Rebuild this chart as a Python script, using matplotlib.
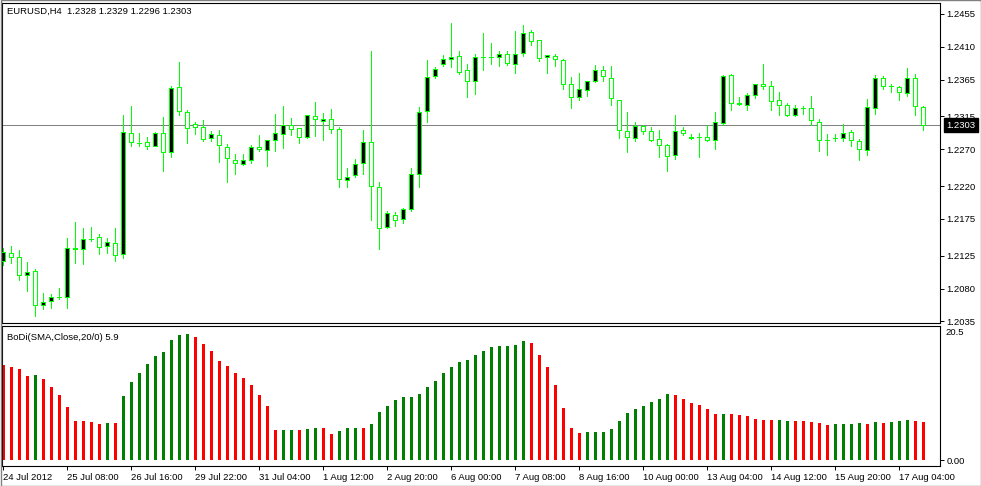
import matplotlib
matplotlib.use("Agg")
import matplotlib.pyplot as plt
from matplotlib.patches import Rectangle

plt.rcParams['font.family'] = ['Liberation Sans', 'DejaVu Sans']

# EURUSD H4 candles
opens = [1.2118, 1.2128, 1.2123, 1.2099, 1.2104, 1.2057, 1.2063, 1.2068, 1.2068, 1.2134,
         1.2134, 1.2147, 1.2150, 1.2138, 1.2142, 1.2127, 1.2293, 1.2279, 1.2280, 1.2275,
         1.2292, 1.2267, 1.2355, 1.2321, 1.2305, 1.2300, 1.2285, 1.2290, 1.2273, 1.2256,
         1.2250, 1.2256, 1.2273, 1.2269, 1.2283, 1.2291, 1.2304, 1.2299, 1.2287, 1.2315,
         1.2309, 1.2312, 1.2298, 1.2228, 1.2235, 1.2252, 1.2280, 1.2218, 1.2164, 1.2181,
         1.2175, 1.2188, 1.2236, 1.2322, 1.2370, 1.2386, 1.2393, 1.2397, 1.2378, 1.2363,
         1.2396, 1.2396, 1.2396, 1.2400, 1.2386, 1.2402, 1.2431, 1.2419, 1.2396, 1.2397,
         1.2392, 1.2359, 1.2341, 1.2351, 1.2364, 1.2378, 1.2368, 1.2338, 1.2295, 1.2285,
         1.2302, 1.2295, 1.2284, 1.2276, 1.2262, 1.2296, 1.2285, 1.2287, 1.2287, 1.2283,
         1.2306, 1.2371, 1.2334, 1.2330, 1.2345, 1.2360, 1.2356, 1.2337, 1.2330, 1.2317,
         1.2326, 1.2326, 1.2308, 1.2283, 1.2286, 1.2285, 1.2294, 1.2281, 1.2269, 1.2326,
         1.2367, 1.2356, 1.2355, 1.2347, 1.2367, 1.2328]
highs = [1.2135, 1.2138, 1.2133, 1.2116, 1.2106, 1.2074, 1.2073, 1.2081, 1.2149, 1.2171,
         1.2162, 1.2164, 1.2154, 1.2149, 1.2163, 1.2317, 1.2329, 1.2292, 1.2287, 1.2294,
         1.2314, 1.2357, 1.2389, 1.2324, 1.2308, 1.2310, 1.2295, 1.2296, 1.2278, 1.2264,
         1.2264, 1.2276, 1.2290, 1.2283, 1.2319, 1.2329, 1.2313, 1.2299, 1.2317, 1.2335,
         1.2320, 1.2325, 1.2300, 1.2245, 1.2257, 1.2296, 1.2404, 1.2225, 1.2186, 1.2185,
         1.2190, 1.2245, 1.2328, 1.2392, 1.2382, 1.2399, 1.2443, 1.2404, 1.2386, 1.2400,
         1.2429, 1.2415, 1.2405, 1.2404, 1.2432, 1.2440, 1.2433, 1.2419, 1.2399, 1.2400,
         1.2393, 1.2369, 1.2374, 1.2364, 1.2385, 1.2384, 1.2384, 1.2338, 1.2321, 1.2307,
         1.2304, 1.2300, 1.2296, 1.2278, 1.2317, 1.2300, 1.2291, 1.2292, 1.2303, 1.2321,
         1.2372, 1.2373, 1.2341, 1.2347, 1.2360, 1.2386, 1.2363, 1.2348, 1.2333, 1.2330,
         1.2329, 1.2343, 1.2311, 1.2291, 1.2291, 1.2305, 1.2296, 1.2284, 1.2339, 1.2372,
         1.2370, 1.2360, 1.2356, 1.2381, 1.2373, 1.2329]
lows = [1.2112, 1.2115, 1.2092, 1.2077, 1.2042, 1.2052, 1.2053, 1.2066, 1.2053, 1.2115,
        1.2113, 1.2145, 1.2127, 1.2129, 1.2118, 1.2122, 1.2275, 1.2275, 1.2270, 1.2274,
        1.2241, 1.2260, 1.2317, 1.2279, 1.2291, 1.2282, 1.2282, 1.2253, 1.2225, 1.2236,
        1.2249, 1.2251, 1.2268, 1.2248, 1.2268, 1.2272, 1.2290, 1.2279, 1.2285, 1.2289,
        1.2283, 1.2292, 1.2218, 1.2218, 1.2233, 1.2237, 1.2174, 1.2134, 1.2162, 1.2166,
        1.2170, 1.2186, 1.2218, 1.2308, 1.2367, 1.2384, 1.2382, 1.2373, 1.2341, 1.2346,
        1.2378, 1.2387, 1.2384, 1.2385, 1.2374, 1.2398, 1.2413, 1.2391, 1.2375, 1.2384,
        1.2352, 1.2326, 1.2338, 1.2343, 1.2362, 1.2364, 1.2330, 1.2285, 1.2266, 1.2282,
        1.2291, 1.2282, 1.2260, 1.2241, 1.2257, 1.2290, 1.2284, 1.2260, 1.2282, 1.2271,
        1.2304, 1.2324, 1.2330, 1.2324, 1.2340, 1.2352, 1.2324, 1.2317, 1.2316, 1.2316,
        1.2319, 1.2304, 1.2268, 1.2263, 1.2282, 1.2282, 1.2274, 1.2255, 1.2263, 1.2319,
        1.2352, 1.2349, 1.2338, 1.2343, 1.2317, 1.2296]
closes = [1.2130, 1.2123, 1.2098, 1.2102, 1.2057, 1.2061, 1.2069, 1.2068, 1.2135, 1.2135,
          1.2148, 1.2148, 1.2137, 1.2143, 1.2126, 1.2294, 1.2280, 1.2279, 1.2275, 1.2293,
          1.2266, 1.2354, 1.2322, 1.2299, 1.2301, 1.2284, 1.2291, 1.2276, 1.2258, 1.2251,
          1.2255, 1.2273, 1.2270, 1.2283, 1.2292, 1.2304, 1.2298, 1.2287, 1.2317, 1.2311,
          1.2311, 1.2298, 1.2229, 1.2233, 1.2250, 1.2280, 1.2220, 1.2162, 1.2183, 1.2174,
          1.2188, 1.2236, 1.2321, 1.2369, 1.2380, 1.2393, 1.2396, 1.2376, 1.2363, 1.2396,
          1.2396, 1.2396, 1.2400, 1.2388, 1.2401, 1.2429, 1.2418, 1.2395, 1.2399, 1.2393,
          1.2360, 1.2341, 1.2352, 1.2363, 1.2378, 1.2370, 1.2340, 1.2296, 1.2287, 1.2302,
          1.2295, 1.2283, 1.2276, 1.2261, 1.2295, 1.2293, 1.2287, 1.2287, 1.2283, 1.2308,
          1.2370, 1.2334, 1.2332, 1.2345, 1.2359, 1.2356, 1.2336, 1.2330, 1.2317, 1.2326,
          1.2326, 1.2310, 1.2283, 1.2283, 1.2286, 1.2292, 1.2283, 1.2270, 1.2328, 1.2367,
          1.2356, 1.2356, 1.2348, 1.2367, 1.2329, 1.2303]

# BoDi(SMA,Close,20/0) histogram
bodi = [14.8, 14.4, 14.2, 13.0, 13.2, 12.6, 11.4, 10.1, 8.2, 6.1,
        6.1, 5.9, 5.6, 5.7, 5.7, 9.9, 12.1, 13.5, 14.9, 16.1,
        16.8, 18.6, 19.4, 19.6, 19.1, 18.0, 16.9, 15.4, 14.6, 13.5,
        12.7, 11.6, 10.1, 8.4, 4.7, 4.7, 4.7, 4.7, 4.8, 5.0,
        5.0, 4.0, 4.5, 5.0, 5.0, 5.0, 5.6, 7.5, 8.4, 9.3,
        9.8, 9.8, 10.2, 11.3, 12.3, 13.5, 14.4, 15.2, 15.5, 16.3,
        16.9, 17.5, 17.7, 17.7, 17.9, 18.5, 18.2, 16.3, 14.4, 11.6,
        8.1, 5.0, 4.2, 4.3, 4.3, 4.3, 4.8, 6.1, 7.3, 7.9,
        8.4, 9.0, 9.5, 10.2, 10.1, 9.5, 8.9, 8.5, 7.9, 7.1,
        7.1, 7.1, 7.0, 6.8, 6.4, 6.2, 6.2, 6.2, 6.1, 6.1,
        6.1, 5.9, 5.7, 5.5, 5.6, 5.6, 5.6, 5.7, 5.6, 5.9,
        5.7, 5.9, 6.1, 6.2, 6.1, 5.9]
bodi_rising = [0, 0, 0, 0, 1, 0, 0, 0, 0, 0,
               0, 0, 0, 1, 0, 1, 1, 1, 1, 1,
               1, 1, 1, 1, 0, 0, 0, 0, 0, 0,
               0, 0, 0, 0, 0, 1, 1, 0, 1, 1,
               0, 0, 1, 1, 1, 0, 1, 1, 1, 1,
               1, 1, 1, 1, 1, 1, 1, 1, 1, 1,
               1, 1, 1, 1, 1, 1, 0, 0, 0, 0,
               0, 0, 0, 1, 1, 1, 1, 1, 1, 1,
               1, 1, 1, 1, 0, 0, 0, 0, 0, 0,
               1, 0, 0, 0, 0, 0, 0, 1, 1, 0,
               0, 0, 0, 0, 1, 1, 1, 1, 0, 1,
               0, 1, 1, 1, 0, 0]

date_labels = ["24 Jul 2012", "25 Jul 08:00", "26 Jul 16:00", "29 Jul 22:00",
               "31 Jul 04:00", "1 Aug 12:00", "2 Aug 20:00", "6 Aug 00:00",
               "7 Aug 08:00", "8 Aug 16:00", "10 Aug 00:00", "13 Aug 04:00",
               "14 Aug 12:00", "15 Aug 20:00", "17 Aug 04:00"]
date_label_bars = [0, 8, 16, 24, 32, 40, 48, 56, 64, 72, 80, 88, 96, 104, 112]
price_ticks = [1.2455, 1.2410, 1.2365, 1.2315, 1.2270, 1.2220, 1.2175, 1.2125, 1.2080, 1.2035]
last_price = 1.2303
bodi_max_label = "20.5"

W, H = 981, 486
GREEN = '#00FF00'
FS = 6.8
PX = 0.72  # one pixel in points at 100 dpi


def fig_box(left, top, right, bottom):
    """Pixel box -> figure fraction rect."""
    return [left / W, 1 - bottom / H, (right - left) / W, (bottom - top) / H]


fig = plt.figure(figsize=(W / 100, H / 100), dpi=100)
fig.patch.set_facecolor('white')

# main price window
ax = fig.add_axes(fig_box(2, 3, 940, 323))
n = len(opens)
xs = list(range(n))
ax.set_xlim(-0.125, 117.125)
ax.set_ylim(1.20329, 1.24700)

ax.axhline(last_price, color='#808080', lw=PX, zorder=1, antialiased=False)
ax.vlines(xs, lows, highs, color=GREEN, lw=PX, zorder=2, antialiased=False)
for i in xs:
    o, c = opens[i], closes[i]
    face = 'black' if c > o else 'white'
    ax.add_patch(Rectangle((i - 0.25, min(o, c)), 0.5, abs(c - o),
                           facecolor=face, edgecolor=GREEN, lw=PX,
                           antialiased=False, zorder=3))

ax.set_xticks([])
ax.yaxis.tick_right()
ax.set_yticks(price_ticks)
ax.set_yticklabels([f'{p:.4f}' for p in price_ticks])
ax.tick_params(axis='y', direction='out', length=3, width=0.7, labelsize=FS, pad=1.5)
for s in ax.spines.values():
    s.set_linewidth(0.8)

ax.annotate(f'{last_price:.4f}', xy=(1, last_price), xycoords=('axes fraction', 'data'),
            xytext=(4.5, 0), textcoords='offset points', ha='left', va='center',
            color='white', fontsize=FS, annotation_clip=False,
            bbox=dict(boxstyle='square,pad=0.25', fc='black', ec='black'))
ax.text(5 / 938, 1 - 8 / 320, 'EURUSD,H4  1.2328 1.2329 1.2296 1.2303',
        transform=ax.transAxes, fontsize=FS, va='center', ha='left')

# indicator window
ax2 = fig.add_axes(fig_box(2, 326, 940, 466))
ax2.set_xlim(-0.125, 117.125)
ax2.set_ylim(-0.93, 20.81)
ax2.bar(xs, bodi, width=0.375, linewidth=0, antialiased=False,
        color=['#008000' if r else '#FF0000' for r in bodi_rising])
ax2.yaxis.tick_right()
ax2.set_yticks([0])
ax2.set_yticklabels(['0.00'])
ax2.tick_params(axis='y', direction='out', length=3, width=0.7, labelsize=FS, pad=1.5)
ax2.set_xticks(date_label_bars)
ax2.set_xticklabels(date_labels, ha='left')
ax2.tick_params(axis='x', direction='out', length=3, width=0.7, labelsize=FS, pad=2)
for s in ax2.spines.values():
    s.set_linewidth(0.8)
ax2.annotate(bodi_max_label, xy=(1, 1), xycoords='axes fraction', xytext=(4.2, -1.5),
             textcoords='offset points', ha='left', va='top', fontsize=FS,
             annotation_clip=False)
ax2.text(5 / 938, 1 - 11 / 140, f'BoDi(SMA,Close,20/0) {bodi[-1]}',
         transform=ax2.transAxes, fontsize=FS, va='center', ha='left')

# outer frame of the terminal window
fig.patches.append(Rectangle((0.5 / W, 0.5 / H), 1 - 1 / W, 1 - 1 / H, transform=fig.transFigure,
                             fill=False, edgecolor='#808080', lw=1.0))

fig.savefig('out.png', dpi=100)
